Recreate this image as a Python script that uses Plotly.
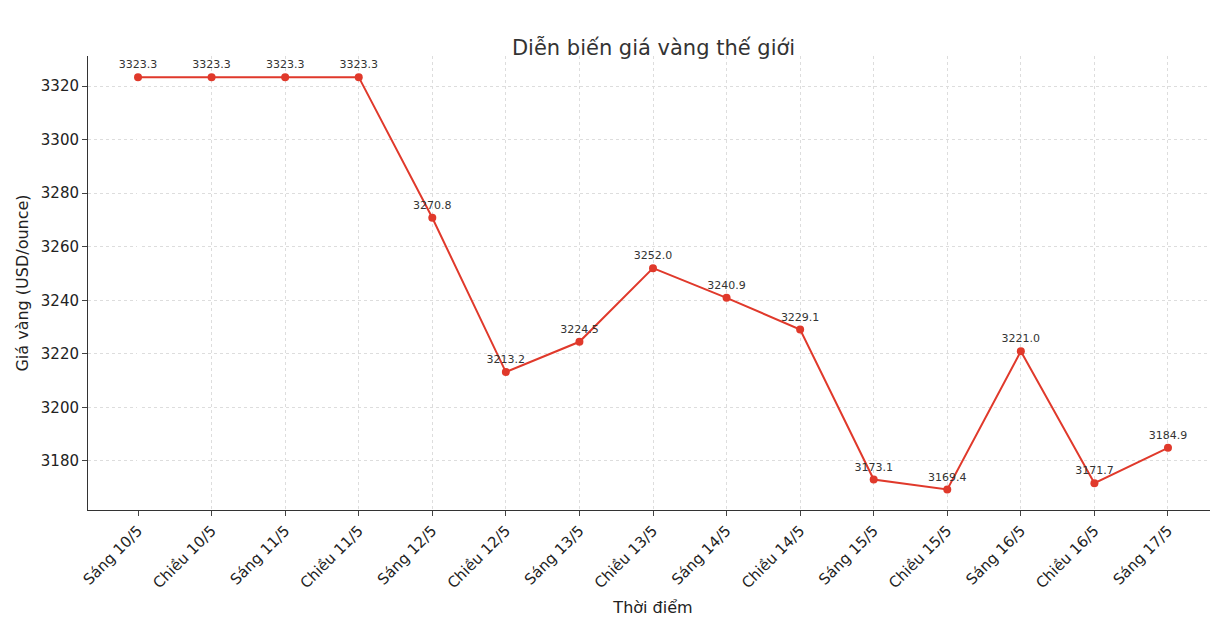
import plotly.graph_objects as go

categories = ["Sáng 10/5","Chiều 10/5","Sáng 11/5","Chiều 11/5","Sáng 12/5","Chiều 12/5","Sáng 13/5","Chiều 13/5","Sáng 14/5","Chiều 14/5","Sáng 15/5","Chiều 15/5","Sáng 16/5","Chiều 16/5","Sáng 17/5"]
prices = [3323.3,3323.3,3323.3,3323.3,3270.8,3213.2,3224.5,3252.0,3240.9,3229.1,3173.1,3169.4,3221.0,3171.7,3184.9]

x = list(range(len(categories)))
fig = go.Figure(go.Scatter(
    x=x, y=prices, mode="lines+markers+text",
    line=dict(color="#e0392b", width=2), marker=dict(color="#e0392b", size=8),
    text=[f"{v:.1f}" for v in prices], textposition="top center",
    textfont=dict(size=11, color="#333"), cliponaxis=False))
fig.update_layout(
    width=1218, height=626, plot_bgcolor="white", paper_bgcolor="white",
    font=dict(family="DejaVu Sans", color="#222"),
    title=dict(text="Diễn biến giá vàng thế giới", x=0.53, xanchor="center", y=0.948, font=dict(size=21, color="#333")),
    margin=dict(l=80, r=8, t=48, b=124), showlegend=False)
fig.update_xaxes(tickvals=x, ticktext=categories, tickangle=-45, range=[-0.68, 14.68], automargin=False,
    showgrid=True, gridcolor="#dddddd", griddash="3px,3px", showline=True, linecolor="#333",
    ticks="outside", tickfont=dict(size=15), title=dict(text="Thời điểm", font=dict(size=16), standoff=10))
fig.update_yaxes(range=[3161.7, 3331.2], dtick=20, showgrid=True, gridcolor="#dddddd", griddash="3px,3px", automargin=False,
    showline=True, linecolor="#333", ticks="outside", tickfont=dict(size=15), zeroline=False,
    title=dict(text="Giá vàng (USD/ounce)", font=dict(size=16), standoff=8))
fig.write_html("out.html")
